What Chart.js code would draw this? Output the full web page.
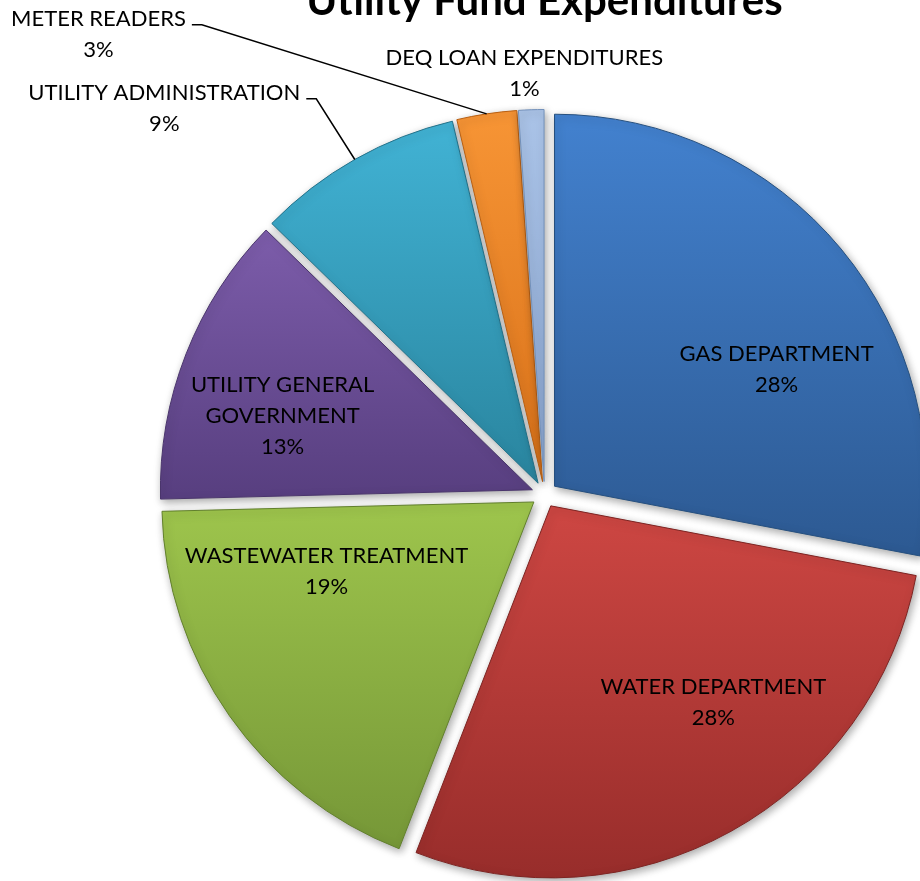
<!DOCTYPE html>
<html>
<head>
<meta charset="utf-8">
<title>Utility Fund Expenditures</title>
<script src="https://cdn.jsdelivr.net/npm/chart.js@4.4.1/dist/chart.umd.min.js"></script>
<style>
  html, body { margin: 0; padding: 0; background: #fff; }
  #wrap { position: relative; width: 920px; height: 881px; overflow: hidden; }
  #pie { position: absolute; left: 0; top: 0; }
</style>
</head>
<body>
<div id="wrap"><canvas id="pie" width="1200" height="1200"></canvas></div>
<script>
var title = 'Utility Fund Expenditures';
var categories = ['GAS DEPARTMENT', 'WATER DEPARTMENT', 'WASTEWATER TREATMENT', 'UTILITY GENERAL GOVERNMENT', 'UTILITY ADMINISTRATION', 'METER READERS', 'DEQ LOAN EXPENDITURES'];
var shares = [28.0, 27.9, 18.7, 12.7, 9.0, 2.6, 1.1];

// light (top) and dark (bottom) tone of each slice
var lightColors = ['#4382d0', '#cc4642', '#9dc44c', '#7d5dab', '#42b4d6', '#f89636', '#abc4e8'];
var darkColors = ['#2d5a93', '#962c2a', '#759637', '#583f80', '#2a86a0', '#d9721a', '#8aa5cf'];
var edgeColors = ['#26507f', '#7d2422', '#62802d', '#4a356c', '#23728a', '#b85f12', '#7290ba'];

// where each label sits, in units of the pie radius from its centre
var labelSpots = [
  { dx: 0.624, dy: -0.336, wrap: false, leader: false },
  { dx: 0.454, dy: 0.559, wrap: false, leader: false },
  { dx: -0.586, dy: 0.208, wrap: false, leader: false },
  { dx: -0.704, dy: -0.210, wrap: true, leader: false },
  { dx: -1.022, dy: -1.038, wrap: false, leader: true },
  { dx: -1.199, dy: -1.237, wrap: false, leader: true },
  { dx: -0.054, dy: -1.132, wrap: false, leader: false }
];

var EXPLODE = 13; // px each slice is pulled out
var FONT = 'Lato, "Open Sans", sans-serif';

function sliceGradient(context) {
  var chart = context.chart;
  var area = chart.chartArea;
  var i = context.dataIndex;
  if (!area) return lightColors[i];
  var cx = (area.left + area.right) / 2;
  var cy = (area.top + area.bottom) / 2;
  var r = (Math.min(area.right - area.left, area.bottom - area.top) - 1) / 2;
  var total = shares.reduce(function(a, b) { return a + b; }, 0);
  var before = 0;
  for (var k = 0; k < i; k++) before += shares[k];
  var a0 = -Math.PI / 2 + before / total * Math.PI * 2;
  var a1 = a0 + shares[i] / total * Math.PI * 2;
  var mid = (a0 + a1) / 2;
  var oy = Math.sin(mid) * EXPLODE;
  var minY = cy, maxY = cy;
  for (var s = 0; s <= 24; s++) {
    var a = a0 + (a1 - a0) * s / 24;
    var y = cy + Math.sin(a) * r;
    minY = Math.min(minY, y);
    maxY = Math.max(maxY, y);
  }
  var g = chart.ctx.createLinearGradient(0, minY + oy, 0, maxY + oy);
  g.addColorStop(0, lightColors[i]);
  g.addColorStop(1, darkColors[i]);
  return g;
}

// draws every slice pulled out along its middle angle, with a soft shadow
var explodePlugin = {
  id: 'explodedSlices',
  beforeDatasetDraw: function(chart, args) {
    var ctx = chart.ctx;
    args.meta.data.forEach(function(arc) {
      var mid = (arc.startAngle + arc.endAngle) / 2;
      ctx.save();
      ctx.shadowColor = 'rgba(0,0,0,0.35)';
      ctx.shadowBlur = 9;
      ctx.shadowOffsetX = 2;
      ctx.shadowOffsetY = 3;
      ctx.translate(Math.cos(mid) * EXPLODE, Math.sin(mid) * EXPLODE);
      arc.draw(ctx);
      ctx.restore();
    });
    return false;
  }
};

var labelPlugin = {
  id: 'sliceLabels',
  afterDraw: function(chart) {
    var ctx = chart.ctx;
    var meta = chart.getDatasetMeta(0);
    var total = shares.reduce(function(a, b) { return a + b; }, 0);
    var lineH = 31;
    ctx.save();
    ctx.fillStyle = '#000';
    ctx.strokeStyle = '#000';
    ctx.lineWidth = 1.5;
    ctx.textAlign = 'center';
    ctx.textBaseline = 'middle';
    ctx.font = '22px ' + FONT;
    meta.data.forEach(function(arc, i) {
      var spot = labelSpots[i];
      var R = arc.outerRadius;
      var x = arc.x + spot.dx * R;
      var y = arc.y + spot.dy * R;
      var name = categories[i];
      var lines = [];
      if (spot.wrap) {
        var words = name.split(' ');
        lines.push(words.slice(0, -1).join(' '));
        lines.push(words[words.length - 1]);
      } else {
        lines.push(name);
      }
      lines.push(Math.round(shares[i] / total * 100) + '%');
      var y0 = y - (lines.length - 1) * lineH / 2;
      lines.forEach(function(t, j) {
        ctx.fillText(t, x, y0 + j * lineH);
      });
      if (spot.leader) {
        var w = ctx.measureText(lines[0]).width;
        var sx = x + w / 2 + 6;
        var sy = y0 + 6;
        var mid = (arc.startAngle + arc.endAngle) / 2;
        var ex = arc.x + Math.cos(mid) * (R + EXPLODE);
        var ey = arc.y + Math.sin(mid) * (R + EXPLODE);
        ctx.beginPath();
        ctx.moveTo(sx, sy);
        ctx.lineTo(sx + 10, sy);
        ctx.lineTo(ex, ey);
        ctx.stroke();
      }
    });
    // chart title, partly above the top edge like the original
    ctx.font = 'bold 42px ' + FONT;
    ctx.textBaseline = 'alphabetic';
    ctx.fillText(title, meta.data[0].x, 15);
    ctx.restore();
  }
};

var ctx = document.getElementById('pie').getContext('2d');

var chart = new Chart(ctx, {
  type: 'pie',
  data: {
    labels: categories,
    datasets: [{
      data: shares,
      backgroundColor: sliceGradient,
      borderColor: edgeColors,
      borderWidth: 1
    }]
  },
  options: {
    responsive: false,
    devicePixelRatio: 1,
    animation: false,
    layout: {
      padding: { left: 172, top: 122, right: 283, bottom: 333 }
    },
    plugins: {
      legend: { display: false },
      tooltip: { enabled: false },
      title: { display: false }
    },
    events: []
  },
  plugins: [explodePlugin, labelPlugin]
});
</script>
</body>
</html>
